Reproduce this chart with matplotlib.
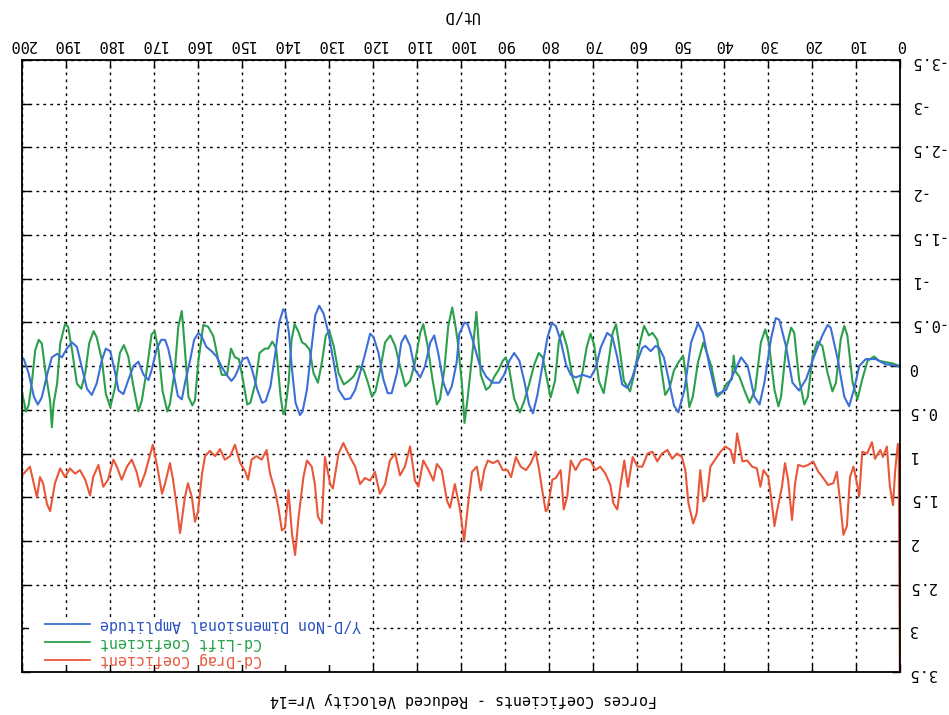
import matplotlib.pyplot as plt
from matplotlib.patches import Rectangle
from matplotlib.ticker import MultipleLocator, FuncFormatter

# Drag coefficient history (Ut/D, Cd)
t_drag = [0.0, 0.3, 0.5, 1.1, 1.6, 2.3, 3.0, 3.9, 4.5, 5.7, 6.4, 7.5, 8.6, 9.3, 9.8, 10.6, 11.4,
          12.1, 12.9, 13.6, 14.4, 15.2, 16.4, 17.5, 18.6, 19.8, 20.9, 22.0, 23.2, 23.9, 24.6,
          25.5, 26.2, 26.9, 28.1, 28.6, 29.2, 30.0, 31.1, 31.8, 32.6, 33.7, 34.8, 35.9, 37.1,
          37.8, 38.6, 39.8, 40.9, 42.0, 43.2, 44.0, 44.8, 45.5, 46.3, 47.1, 48.2, 48.9, 49.7,
          50.8, 51.9, 53.0, 54.2, 55.3, 56.4, 57.5, 58.7, 59.8, 60.9, 62.0, 62.8, 63.6, 64.4,
          65.3, 66.0, 67.1, 68.3, 69.4, 70.5, 71.6, 72.7, 73.9, 75.0, 75.8, 76.6, 77.3, 78.4,
          79.2, 80.3, 80.7, 81.5, 82.2, 83.0, 84.1, 85.2, 86.4, 87.5, 88.6, 89.4, 90.5, 91.6,
          92.7, 93.9, 94.7, 95.5, 96.4, 97.5, 98.3, 99.3, 100.2, 101.4, 102.5, 103.2, 104.4,
          105.5, 106.3, 107.4, 108.6, 109.7, 110.5, 111.6, 112.8, 113.9, 115.0, 116.2, 117.3,
          118.5, 119.6, 120.7, 121.9, 123.0, 124.1, 125.3, 126.8, 127.9, 129.2, 129.8, 131.0,
          131.7, 132.6, 133.3, 134.0, 135.1, 135.9, 137.0, 137.8, 138.5, 139.3, 140.1, 140.8,
          141.6, 142.4, 143.5, 144.3, 145.4, 146.6, 147.7, 148.5, 149.2, 150.3, 151.5, 152.6,
          153.8, 154.9, 156.0, 157.2, 158.3, 159.0, 159.9, 160.6, 161.3, 162.2, 162.9, 164.0,
          164.7, 165.6, 166.3, 167.4, 168.1, 169.2, 170.2, 170.9, 172.0, 173.1, 173.9, 175.0,
          176.1, 177.3, 178.4, 179.2, 180.4, 181.5, 182.6, 183.8, 184.5, 185.6, 186.8, 187.9,
          189.1, 190.2, 191.3, 192.5, 193.6, 194.3, 195.2, 195.9, 196.6, 197.5, 198.2, 198.9,
          200.0]
cd_drag = [4.0, 0.9, 0.89, 1.19, 1.59, 1.38, 0.92, 1.04, 0.96, 1.06, 0.87, 1.0, 0.98, 1.49, 1.34,
           1.15, 1.27, 1.83, 1.93, 1.57, 1.21, 1.34, 1.36, 1.28, 1.21, 1.09, 1.13, 1.15, 1.13,
           1.34, 1.76, 1.30, 1.11, 1.38, 1.68, 1.83, 1.57, 1.27, 1.19, 1.38, 1.17, 1.15, 1.08,
           1.09, 0.77, 1.11, 0.96, 0.92, 0.98, 1.06, 1.15, 1.49, 1.55, 1.19, 1.68, 1.8, 1.57,
           1.19, 1.04, 1.0, 1.06, 0.96, 1.0, 1.09, 0.98, 1.0, 1.15, 1.15, 1.04, 1.38, 1.08,
           1.34, 1.64, 1.57, 1.36, 1.23, 1.15, 1.19, 1.08, 1.06, 1.08, 1.19, 1.08, 1.49, 1.64,
           1.19, 1.28, 1.30, 1.64, 1.66, 1.42, 1.19, 0.98, 1.11, 1.19, 1.15, 1.04, 1.27, 1.19,
           1.19, 1.08, 1.11, 1.08, 1.19, 1.42, 1.15, 1.21, 1.54, 2.0, 1.65, 1.35, 1.62, 1.54,
           1.19, 1.12, 1.31, 1.19, 1.08, 1.38, 1.31, 0.92, 1.15, 1.25, 1.0, 1.08, 1.35, 1.46,
           1.21, 1.31, 1.28, 1.35, 1.15, 1.04, 0.88, 1.0, 1.4, 1.35, 1.04, 1.8, 1.72, 1.35,
           1.15, 1.08, 1.27, 1.73, 2.16, 1.92, 1.42, 1.85, 1.88, 1.62, 1.42, 1.23, 0.96, 1.07,
           1.03, 1.07, 1.3, 1.2, 1.11, 0.9, 1.03, 1.07, 0.95, 1.03, 0.97, 1.03, 1.23, 1.66,
           1.78, 1.5, 1.34, 1.5, 1.91, 1.62, 1.3, 1.11, 1.34, 1.46, 1.15, 0.9, 1.03, 1.23,
           1.38, 1.21, 1.07, 1.15, 1.3, 1.15, 1.07, 1.3, 1.38, 1.13, 1.27, 1.48, 1.3, 1.19,
           1.23, 1.17, 1.27, 1.17, 1.34, 1.66, 1.58, 1.34, 1.27, 1.5, 1.3, 1.15, 1.19, 1.25]

# Lift coefficient history (Ut/D, Cl)
t_lift = [0.0, 1.7, 4.8, 5.9, 7.4, 8.6, 9.7, 10.8, 12.0, 12.7, 13.5, 14.6, 15.4, 16.5, 17.7, 18.8,
          19.9, 21.0, 21.8, 23.0, 24.1, 24.8, 26.0, 27.1, 27.7, 28.6, 29.9, 30.7, 31.7, 33.0,
          34.3, 35.5, 36.6, 37.5, 37.9, 38.3, 39.5, 40.5, 41.6, 43.0, 44.8, 46.0, 47.2, 48.0,
          48.8, 49.4, 50.5, 51.5, 52.5, 53.5, 54.3, 55.3, 56.4, 57.2, 58.3, 59.5, 60.6, 61.5,
          62.9, 64.0, 64.7, 65.5, 66.7, 67.5, 68.6, 69.7, 70.5, 71.4, 72.3, 73.4, 74.6, 75.8,
          76.9, 77.7, 78.6, 79.6, 80.5, 81.4, 82.3, 83.3, 84.5, 85.6, 86.6, 87.9, 89.0, 89.8,
          90.5, 91.4, 92.4, 93.5, 94.3, 95.5, 96.1, 96.5, 97.2, 98.5, 99.2, 99.8, 100.8, 101.4,
          102.0, 102.9, 103.8, 104.8, 105.5, 106.5, 107.6, 108.6, 109.3, 110.5, 111.6, 112.7,
          113.9, 115.0, 116.1, 117.3, 118.4, 119.5, 120.3, 121.2, 122.2, 123.3, 124.5, 125.6,
          126.7, 127.9, 129.0, 130.0, 130.8, 131.7, 132.6, 133.6, 134.5, 135.5, 136.2, 137.1,
          137.9, 138.6, 139.3, 140.1, 140.5, 141.1, 142.1, 143.0, 143.9, 144.7, 145.9, 146.8,
          148.0, 148.7, 149.7, 150.6, 151.5, 152.4, 153.3, 154.5, 155.3, 156.4, 157.6, 158.7,
          159.8, 160.6, 161.2, 162.1, 163.0, 163.6, 164.4, 165.2, 166.3, 166.9, 168.0, 168.9,
          169.8, 170.5, 171.6, 172.7, 173.5, 174.6, 175.8, 176.8, 177.7, 178.8, 179.9, 180.9,
          181.8, 183.0, 183.7, 184.7, 185.6, 186.5, 187.5, 188.6, 189.5, 190.2, 191.3, 192.0,
          192.8, 193.2, 193.6, 194.7, 195.5, 196.2, 197.0, 197.7, 198.5, 199.1, 199.6, 200.0]
cl_lift = [0.0, -0.03, -0.06, -0.11, -0.06, 0.15, 0.38, 0.19, -0.35, -0.46, -0.31, 0.19, 0.29,
           0.08, -0.23, -0.28, -0.12, 0.35, 0.44, 0.15, -0.38, -0.44, -0.19, 0.35, 0.46, 0.27,
           -0.27, -0.42, -0.27, 0.27, 0.42, 0.27, 0.12, 0.06, -0.12, 0.15, 0.2, 0.3, 0.35, 0.0,
           -0.27, -0.05, 0.35, 0.47, 0.1, -0.12, -0.04, 0.05, 0.25, 0.33, 0.06, -0.3, -0.38,
           -0.35, -0.46, -0.21, 0.1, 0.29, 0.17, -0.25, -0.48, -0.37, 0.06, 0.31, 0.17, -0.25,
           -0.37, -0.21, 0.06, 0.31, 0.13, -0.21, -0.4, -0.29, 0.17, 0.36, 0.13, -0.1, -0.15,
           -0.02, 0.21, 0.4, 0.53, 0.37, 0.04, -0.1, -0.06, 0.04, 0.12, 0.24, 0.27, 0.1, -0.35,
           -0.62, -0.25, 0.37, 0.65, 0.2, -0.3, -0.5, -0.67, -0.46, 0.04, 0.38, 0.44, 0.15,
           -0.23, -0.48, -0.38, -0.04, 0.17, 0.23, 0.0, -0.23, -0.35, -0.27, 0.04, 0.29, 0.35,
           0.19, 0.04, 0.0, 0.12, 0.17, 0.21, 0.08, -0.23, -0.4, -0.35, -0.04, 0.19, 0.08,
           -0.19, -0.25, -0.27, -0.4, -0.48, -0.3, 0.2, 0.52, 0.55, 0.35, -0.2, -0.28, -0.2,
           -0.2, -0.15, 0.19, 0.42, 0.44, 0.15, -0.08, -0.1, -0.2, 0.1, 0.1, -0.07, -0.34,
           -0.45, -0.47, -0.07, 0.39, 0.45, 0.35, -0.26, -0.63, -0.45, 0.05, 0.43, 0.52, 0.28,
           -0.18, -0.4, -0.36, 0.05, 0.39, 0.52, 0.24, -0.11, -0.24, -0.15, 0.24, 0.47, 0.32,
           -0.07, -0.33, -0.4, -0.26, 0.08, 0.26, 0.2, -0.18, -0.45, -0.48, -0.26, 0.2, 0.43,
           0.7, 0.4, 0.05, -0.26, -0.3, -0.18, 0.16, 0.45, 0.52, 0.4, 0.3]

# Non dimensional transverse amplitude (Ut/D, Y/D)
t_amp = [0.0, 3.3, 5.5, 7.8, 9.3, 10.5, 11.6, 12.7, 14.2, 15.8, 16.5, 17.7, 19.5, 21.4, 23.0,
         24.5, 26.0, 27.5, 28.3, 29.4, 30.9, 32.0, 33.2, 34.7, 36.2, 37.7, 39.6, 41.9, 43.4,
         44.9, 46.0, 47.6, 49.1, 50.5, 51.5, 52.8, 53.8, 54.9, 55.7, 56.8, 58.0, 58.7, 59.8,
         61.0, 62.1, 63.3, 64.4, 65.5, 66.7, 68.2, 69.3, 70.5, 72.3, 73.9, 75.0, 76.1, 77.3,
         78.4, 79.3, 80.3, 81.4, 82.6, 83.6, 84.5, 85.6, 86.7, 87.9, 89.0, 90.2, 91.3, 92.8,
         94.3, 95.8, 97.3, 98.5, 99.2, 100.4, 101.0, 102.1, 103.0, 104.0, 105.2, 106.1, 107.0,
         108.2, 109.3, 110.5, 111.6, 112.7, 113.6, 114.6, 115.8, 116.7, 117.7, 118.8, 119.9,
         120.7, 121.8, 123.0, 124.1, 125.2, 126.5, 127.9, 129.0, 130.2, 131.3, 132.3, 133.2,
         134.1, 135.1, 136.1, 136.7, 137.7, 138.5, 139.2, 140.0, 140.5, 141.4, 142.3, 143.4,
         144.5, 145.3, 146.4, 147.6, 148.7, 149.7, 150.6, 151.5, 152.3, 153.4, 154.5, 155.7,
         156.8, 158.0, 159.1, 159.8, 160.8, 161.7, 162.9, 163.6, 164.5, 165.5, 166.7, 167.4,
         168.3, 169.3, 170.5, 171.2, 172.3, 173.5, 174.6, 175.8, 176.9, 178.0, 178.9, 179.9,
         180.9, 181.8, 183.0, 184.1, 185.2, 186.4, 187.5, 188.6, 189.8, 190.9, 192.0, 193.2,
         194.3, 195.5, 196.4, 197.3, 198.5, 199.6, 200.0]
yd_amp = [0.0, -0.02, -0.08, -0.08, 0.0, 0.27, 0.46, 0.35, -0.08, -0.44, -0.47, -0.35, -0.12,
          0.15, 0.28, 0.19, -0.23, -0.53, -0.55, -0.31, 0.19, 0.44, 0.35, 0.0, -0.1, 0.06, 0.27,
          0.33, 0.0, -0.38, -0.49, -0.27, 0.27, 0.53, 0.45, 0.13, -0.1, -0.21, -0.23, -0.17,
          -0.23, -0.21, -0.06, 0.13, 0.25, 0.21, -0.1, -0.33, -0.38, -0.21, 0.02, 0.13, 0.1,
          0.13, 0.1, -0.02, -0.29, -0.46, -0.49, -0.33, -0.02, 0.33, 0.54, 0.44, 0.17, -0.06,
          -0.15, -0.06, 0.1, 0.19, 0.19, 0.12, -0.02, -0.29, -0.48, -0.5, -0.37, -0.04, 0.23,
          0.33, 0.19, -0.15, -0.35, -0.27, 0.0, 0.13, 0.04, -0.23, -0.35, -0.27, 0.08, 0.31,
          0.31, 0.15, -0.15, -0.33, -0.37, -0.15, 0.08, 0.27, 0.37, 0.38, 0.27, -0.04, -0.38,
          -0.6, -0.69, -0.58, -0.19, 0.27, 0.52, 0.56, 0.42, 0.04, -0.38, -0.62, -0.65, -0.5,
          -0.15, 0.23, 0.4, 0.42, 0.27, 0.04, -0.1, -0.08, 0.02, 0.12, 0.17, 0.1, 0.01, -0.11,
          -0.17, -0.22, -0.34, -0.38, -0.3, -0.07, 0.2, 0.38, 0.34, 0.08, -0.2, -0.3, -0.3,
          -0.2, 0.05, 0.16, 0.1, -0.05, 0.0, 0.16, 0.32, 0.28, 0.05, -0.17, -0.2, -0.07, 0.2,
          0.33, 0.26, 0.01, -0.22, -0.27, -0.2, -0.1, -0.14, -0.1, 0.1, 0.36, 0.44, 0.35, 0.08,
          -0.08, -0.1]

labels = ['Cd-Drag Coeficient', 'Cd-Lift Coeficient', 'Y/D-Non Dimensional Amplitude']
colors = ['#e9573a', '#2b9f4b', '#3d6fd6']
text_colors = ['#e5583c', '#25a04a', '#2a52bf']

plt.rcParams['font.family'] = ['DejaVu Sans Mono']
plt.rcParams['axes.unicode_minus'] = False

fig = plt.figure(figsize=(9.49, 7.15), dpi=100)
ax = fig.add_axes([0.0232, 0.060, 0.9252, 0.856])

ax.plot(t_drag, cd_drag, color=colors[0], lw=1.5)
ax.plot(t_lift, cl_lift, color=colors[1], lw=1.5)
ax.plot(t_amp, yd_amp, color=colors[2], lw=1.5)

# the page is printed upside down
ax.set_xlim(200, 0)
ax.set_ylim(3.5, -3.5)
ax.xaxis.set_major_locator(MultipleLocator(10))
ax.yaxis.set_major_locator(MultipleLocator(0.5))
fmt = FuncFormatter(lambda v, pos: f'{v:g}')
ax.xaxis.set_major_formatter(fmt)
ax.yaxis.set_major_formatter(fmt)
ax.tick_params(direction='in', length=6, width=1, top=True, bottom=True, left=True, right=True,
               labeltop=True, labelbottom=False, labelright=True, labelleft=False,
               labelrotation=180, labelsize=11, pad=6)
ax.grid(True, color='black', linestyle=(0, (2, 3)), linewidth=1.0)
for sp in ax.spines.values():
    sp.set_linewidth(1.3)

ax.xaxis.set_label_position('top')
ax.set_xlabel('Ut/D', rotation=180, fontsize=11, labelpad=12)

fig.text(0.488, 0.021, 'Forces Coeficients - Reduced Velocity Vr=14', rotation=180,
         ha='center', va='center', fontsize=10.8)

# key drawn by hand so its entries read upside down as well, on a blank patch
ax.add_patch(Rectangle((0.008, 0.012), 0.385, 0.078, transform=ax.transAxes,
                       facecolor='white', edgecolor='none', zorder=1.8))
key_y = [0.020, 0.049, 0.078]
for y, lab, c, tc in zip(key_y, labels, colors, text_colors):
    ax.plot([0.026, 0.077], [y, y], transform=ax.transAxes, color=c, lw=1.3, zorder=3)
    ax.text(0.089, y, lab, transform=ax.transAxes, rotation=180, ha='left', va='center',
            color=tc, fontsize=10.8, zorder=3)

fig.savefig('out.png', dpi=100)
